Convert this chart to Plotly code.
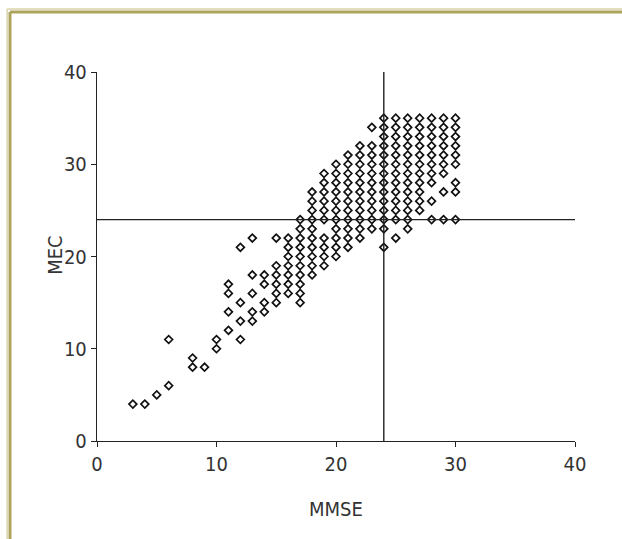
import plotly.graph_objects as go

# MMSE / MEC paired scores, read row by row (MEC level noted in comments)
mmse_scores = [
    24, 25, 26, 27, 28, 29, 30,                      # 35
    23, 24, 25, 26, 27, 28, 29, 30,                  # 34
    24, 25, 26, 27, 28, 29, 30,                      # 33
    22, 23, 24, 25, 26, 27, 28, 29, 30,              # 32
    21, 22, 23, 24, 25, 26, 27, 28, 29, 30,          # 31
    20, 21, 22, 23, 24, 25, 26, 27, 28, 29, 30,      # 30
    19, 20, 21, 22, 23, 24, 25, 26, 27, 28, 29,      # 29
    19, 20, 21, 22, 23, 24, 25, 26, 27, 28, 30,      # 28
    18, 19, 20, 21, 22, 23, 24, 25, 26, 27, 29, 30,  # 27
    18, 19, 20, 21, 22, 23, 24, 25, 26, 27, 28,      # 26
    18, 19, 20, 21, 22, 23, 24, 25, 26, 27,          # 25
    17, 18, 19, 20, 21, 22, 23, 24, 25, 26, 28, 29, 30,  # 24
    17, 18, 20, 21, 22, 23, 24, 26,                  # 23
    13, 15, 16, 17, 18, 19, 20, 21, 22, 25,          # 22
    12, 16, 17, 18, 19, 20, 21, 24,                  # 21
    16, 17, 18, 19, 20,                              # 20
    15, 16, 17, 18, 19,                              # 19
    13, 14, 15, 16, 17, 18,                          # 18
    11, 14, 15, 16, 17,                              # 17
    11, 13, 15, 16, 17,                              # 16
    12, 14, 15, 17,                                  # 15
    11, 13, 14,                                      # 14
    12, 13,                                          # 13
    11,                                              # 12
    6, 10, 12,                                       # 11
    10,                                              # 10
    8,                                               # 9
    8, 9,                                            # 8
    6,                                               # 6
    5,                                               # 5
    3, 4,                                            # 4
]
mec_scores = [
    35, 35, 35, 35, 35, 35, 35,
    34, 34, 34, 34, 34, 34, 34, 34,
    33, 33, 33, 33, 33, 33, 33,
    32, 32, 32, 32, 32, 32, 32, 32, 32,
    31, 31, 31, 31, 31, 31, 31, 31, 31, 31,
    30, 30, 30, 30, 30, 30, 30, 30, 30, 30, 30,
    29, 29, 29, 29, 29, 29, 29, 29, 29, 29, 29,
    28, 28, 28, 28, 28, 28, 28, 28, 28, 28, 28,
    27, 27, 27, 27, 27, 27, 27, 27, 27, 27, 27, 27,
    26, 26, 26, 26, 26, 26, 26, 26, 26, 26, 26,
    25, 25, 25, 25, 25, 25, 25, 25, 25, 25,
    24, 24, 24, 24, 24, 24, 24, 24, 24, 24, 24, 24, 24,
    23, 23, 23, 23, 23, 23, 23, 23,
    22, 22, 22, 22, 22, 22, 22, 22, 22, 22,
    21, 21, 21, 21, 21, 21, 21, 21,
    20, 20, 20, 20, 20,
    19, 19, 19, 19, 19,
    18, 18, 18, 18, 18, 18,
    17, 17, 17, 17, 17,
    16, 16, 16, 16, 16,
    15, 15, 15, 15,
    14, 14, 14,
    13, 13,
    12,
    11, 11, 11,
    10,
    9,
    8, 8,
    6,
    5,
    4, 4,
]

cutoff_mmse = 24
cutoff_mec = 24
axis_range = [0, 40]
tick_values = [0, 10, 20, 30, 40]
tick_labels = ["0", "10", "20", "30", "40"]
x_title = "MMSE"
y_title = "MEC"

FONT = "DejaVu Sans, Liberation Sans Narrow, Arial Narrow, sans-serif"
INK = "#222222"
TEXT = "#333333"

fig = go.Figure()
fig.add_trace(go.Scatter(
    x=mmse_scores, y=mec_scores, mode="markers",
    marker=dict(symbol="diamond-open", size=6, color="#111111",
                line=dict(width=1.7, color="#111111")),
    showlegend=False, hoverinfo="x+y",
))

# cut-off reference lines
fig.add_shape(type="line", xref="x", yref="y", x0=axis_range[0], x1=axis_range[1],
              y0=cutoff_mec, y1=cutoff_mec, line=dict(color=INK, width=1.4), layer="above")
fig.add_shape(type="line", xref="x", yref="y", x0=cutoff_mmse, x1=cutoff_mmse,
              y0=axis_range[0], y1=axis_range[1], line=dict(color=INK, width=1.4), layer="above")

# decorative frame (top and left edges)
frame_x = -0.182
frame_y = 1.1626
fig.add_shape(type="line", xref="paper", yref="paper", x0=frame_x, x1=1.3,
              y0=frame_y, y1=frame_y, line=dict(color="#ada35c", width=3))
fig.add_shape(type="line", xref="paper", yref="paper", x0=frame_x, x1=frame_x,
              y0=-0.4, y1=frame_y, line=dict(color="#ada35c", width=3))
fig.add_shape(type="line", xref="paper", yref="paper", x0=frame_x - 0.006, x1=1.3,
              y0=frame_y + 0.008, y1=frame_y + 0.008, line=dict(color="#d9d3aa", width=1.5))
fig.add_shape(type="line", xref="paper", yref="paper", x0=frame_x - 0.006, x1=frame_x - 0.006,
              y0=-0.4, y1=frame_y + 0.008, line=dict(color="#d9d3aa", width=1.5))

axis_common = dict(
    range=axis_range, tickvals=tick_values, ticktext=tick_labels,
    showline=True, linecolor=INK, linewidth=1.4, ticks="outside", ticklen=5,
    tickwidth=1.4, tickcolor=INK, showgrid=False, zeroline=False,
    tickfont=dict(family=FONT, size=20, color=TEXT),
)
fig.update_xaxes(**axis_common, title=dict(text=x_title, font=dict(family=FONT, size=20, color=TEXT), standoff=26))
fig.update_yaxes(**axis_common)

# y-axis title placed as a rotated annotation to match its position
fig.add_annotation(text=y_title, xref="paper", yref="paper", x=-0.088, y=0.504,
                   textangle=-90, showarrow=False, xanchor="center", yanchor="middle",
                   font=dict(family=FONT, size=20, color=TEXT))

fig.update_layout(
    width=622, height=539,
    margin=dict(l=97, r=47, t=72, b=98),
    plot_bgcolor="white", paper_bgcolor="white",
    font=dict(family=FONT, color=TEXT),
)

post = (
    "document.body.style.margin='0';document.body.style.overflow='hidden';"
    "var s=document.createElement('style');"
    "s.textContent='.main-svg text{font-stretch:condensed !important;}';"
    "document.head.appendChild(s);"
)
fig.write_html("out.html", post_script=post, config={"displayModeBar": False})
